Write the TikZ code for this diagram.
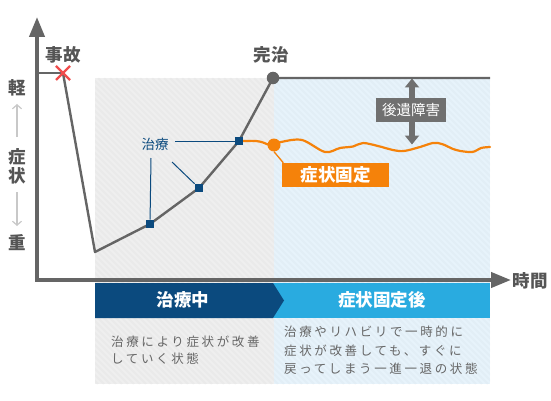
\documentclass[tikz,border=0pt]{standalone}
\usepackage{fontspec}
\setmainfont{Noto Sans CJK JP}
\newfontfamily\descfont[LetterSpace=21]{Noto Sans CJK JP}
\usetikzlibrary{arrows.meta,calc}
\definecolor{axisgray}{HTML}{656565}
\definecolor{txtgray}{HTML}{555555}
\definecolor{descgray}{HTML}{666666}
\definecolor{regiongray}{HTML}{EFEFEF}
\definecolor{regionblue}{HTML}{E7F3FB}
\definecolor{navy}{HTML}{0B4A7E}
\definecolor{skyblue}{HTML}{29ABE0}
\definecolor{orng}{HTML}{F5820A}
\definecolor{redx}{HTML}{F04C4C}
\definecolor{lightarr}{HTML}{C8C8C8}
\definecolor{boxgray}{HTML}{707070}
\tikzset{
  axisline/.style={axisgray, line width=4pt},
  plotline/.style={axisgray, line width=2.4pt, line join=round},
  sq/.style={fill=navy, minimum size=8.5pt, inner sep=0pt},
  gdot/.style={circle, fill=axisgray, minimum size=12.5pt, inner sep=0pt},
  odot/.style={circle, fill=orng, minimum size=13pt, inner sep=0pt},
  orngline/.style={orng, line width=2.2pt, line join=round, line cap=round},
  navyline/.style={navy, line width=1pt},
  bigtxt/.style={font=\fontsize{17.5}{20}\selectfont\bfseries, inner sep=0pt},
  sidetxt/.style={font=\fontsize{17.5}{20}\selectfont\bfseries, text=txtgray, inner sep=0pt},
  desc/.style={font=\descfont\fontsize{12.5}{15}\selectfont, text=descgray, anchor=west, inner sep=0pt},
  hatch/.style={black, opacity=0.018, line width=2.2pt},
  lightarrow/.style={lightarr, line width=1.2pt, -{Straight Barb[length=4pt,width=9pt]}},
}
\begin{document}
\begin{tikzpicture}[x=1pt,y=-1pt]
\useasboundingbox (0,0) rectangle (551,401);
% regions
\fill[regiongray] (95,78) rectangle (274,384);
\fill[regionblue] (274,78) rectangle (490,384);
\begin{scope}
  \clip (95,78) rectangle (490,384);
  \foreach \i in {-310,-304,...,500} \draw[hatch] (\i,78) -- ++(306,306);
\end{scope}
% banner
\fill[skyblue] (273,283) rectangle (490,318);
\fill[navy] (95,283) -- (273,283) -- (284,300.5) -- (273,318) -- (95,318) -- cycle;
\node[bigtxt, text=white] (ban1) at (183,300) {治療中};
\node[bigtxt, text=white] (ban2) at (382,300) {症状固定後};
% descriptions
\node[desc] (d1a) at (111,342) {治療により症状が改善};
\node[desc] (d1b) at (111,359) {していく状態};
\node[desc] (d2a) at (284,332) {治療やリハビリで一時的に};
\node[desc] (d2b) at (284,350.5) {症状が改善しても、すぐに};
\node[desc] (d2c) at (284,369) {戻ってしまう一進一退の状態};
% axes
\coordinate (origin) at (37,280);
\coordinate (ytip) at (37,17);
\coordinate (xtip) at (511,280);
\draw[axisline, -{Triangle[length=20pt,width=15pt]}] (origin) -- (ytip);
\draw[axisline, -{Triangle[length=20pt,width=15pt]}] (35,280) -- (xtip);
\node[sidetxt] (jikan) at (530,281) {時間};
% side labels
\node[sidetxt] (kei) at (17,88) {軽};
\node[sidetxt] (sho) at (17,157) {症};
\node[sidetxt] (jo) at (17,176) {状};
\node[sidetxt] (ju) at (17,243) {重};
\coordinate (upa) at (17,137);
\coordinate (upb) at (17,104);
\coordinate (dna) at (17,192);
\coordinate (dnb) at (17,226);
\draw[lightarrow] (upa) -- (upb);
\draw[lightarrow] (dna) -- (dnb);
% plot
\coordinate (acc) at (63,73);
\coordinate (ystart) at (37,73);
\coordinate (low) at (95,252);
\coordinate (topend) at (490,78);
\coordinate (t1c) at (150,224);
\coordinate (t2c) at (199,188);
\coordinate (t3c) at (239,141);
\coordinate (curec) at (273,78);
\draw[axisgray, line width=2pt] (ystart) -- (acc);
\draw[plotline] (acc) -- (low) -- (t1c) -- (t2c) -- (t3c) -- (curec) -- (topend);
% orange curve
\draw[orngline] plot[smooth, tension=0.6] coordinates {(243,141) (256,141) (263,142.5) (268,144.5) (273,145)};
\draw[orngline] plot[smooth, tension=0.55] coordinates {(273,145) (281,142) (302,140) (325,152) (340,148) (353,146.5) (363,143) (378,146) (393,150) (404,151) (420,147) (433,143) (442,144) (456,150) (472,152) (481,148) (490,147)};
% markers
\node[sq] (t1) at (t1c) {};
\node[sq] (t2) at (t2c) {};
\node[sq] (t3) at (t3c) {};
\node[gdot] (cure) at (curec) {};
\node[odot] (fix) at (274,145) {};
\draw[redx, line width=2.4pt] ($(acc)+(-7,-7)$) -- ($(acc)+(7,7)$);
\draw[redx, line width=2.4pt] ($(acc)+(7,-7)$) -- ($(acc)+(-7,7)$);
% labels
\node[sidetxt] (jiko) at (63,55) {事故};
\node[sidetxt] (kanchi) at (271,55) {完治};
% treatment label
\node[font=\fontsize{13.5}{15}\selectfont, text=navy, inner sep=0pt] (trt) at (155,144) {治療};
\coordinate (trtl1) at (175,141);
\coordinate (trtl2) at (151,158);
\coordinate (trtl3) at (172,162);
\draw[navyline] (trtl1) -- (t3);
\draw[navyline] (trtl2) -- (t1);
\draw[navyline] (trtl3) -- (t2);
% fixed symptom label
\node[fill=orng, minimum width=107pt, minimum height=24pt, inner sep=0pt, font=\fontsize{17.5}{20}\selectfont\bfseries, text=white] (fixbox) at (335.5,175) {症状固定};
\draw[orng, line width=1.3pt] (fix.south) -- ($(fixbox.north west)+(1.5,0)$);
% sequela arrow
\coordinate (sqtop) at (412,78.5);
\coordinate (sqbot) at (412,144.5);
\draw[boxgray, line width=5.5pt, {Triangle[length=9pt,width=14pt]}-{Triangle[length=9pt,width=14pt]}] (sqtop) -- (sqbot);
\node[fill=boxgray, minimum width=70pt, minimum height=24pt, inner sep=0pt, font=\fontsize{14.5}{16}\selectfont, text=white] (seq) at (411,110) {後遺障害};
\end{tikzpicture}
\end{document}
